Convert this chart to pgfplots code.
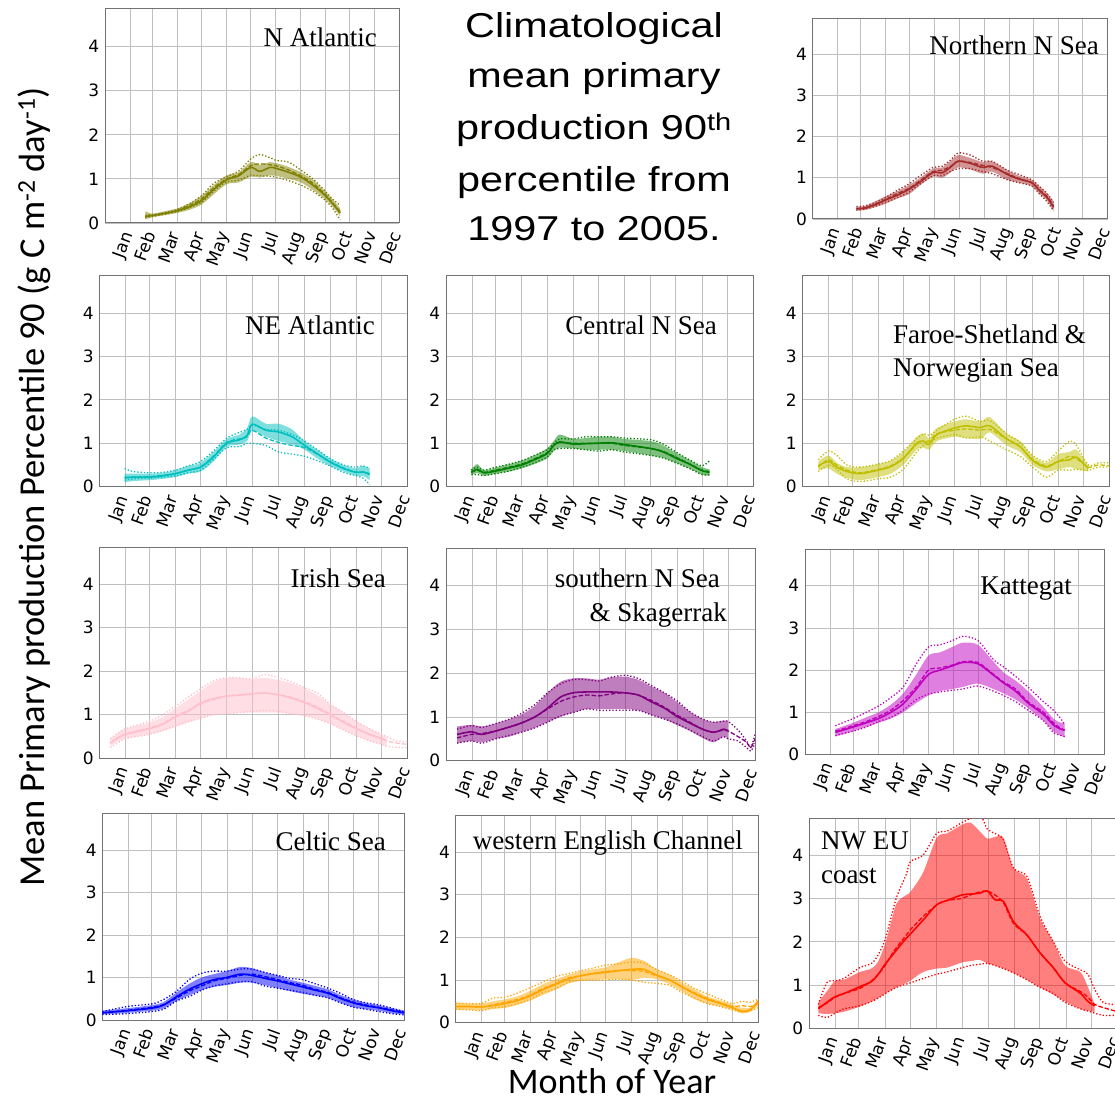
\documentclass[border=0pt]{standalone}
\usepackage{fontspec}
\usepackage{pgfplots}
\usepackage{pgfplotstable}
\pgfplotsset{compat=1.18}
\usepgfplotslibrary{fillbetween}
\setmainfont{Liberation Serif}
\newfontfamily\dejavu{DejaVu Sans}
\newfontfamily\carlito{Carlito}
\newfontfamily\arialw[FakeStretch=1.2]{Liberation Sans}

\definecolor{cOlive}{RGB}{128,128,0}
\definecolor{cBrown}{RGB}{165,42,42}
\definecolor{cCyan}{RGB}{0,191,191}
\definecolor{cGreen}{RGB}{0,128,0}
\definecolor{cYel}{RGB}{191,191,0}
\definecolor{cPink}{RGB}{255,192,203}
\definecolor{cPurple}{RGB}{128,0,128}
\definecolor{cMag}{RGB}{191,0,191}
\definecolor{cBlue}{RGB}{0,0,255}
\definecolor{cOrange}{RGB}{255,165,0}
\definecolor{cRed}{RGB}{255,0,0}

\pgfplotsset{
  panel/.style={
    scale only axis,
    xmin=0, xmax=365, ymin=0, ymax=4.85,
    xtick={31,59,90,120,151,181,212,243,273,304,334,365},
    xticklabels={Jan,Feb,Mar,Apr,May,Jun,Jul,Aug,Sep,Oct,Nov,Dec},
    ytick={0,1,2,3,4},
    grid=major,
    grid style={black!25, line width=0.8pt},
    axis line style={black!55, line width=1pt},
    tick pos=left, major tick length=0pt,
    /pgf/number format/assume math mode=true,
    yticklabel style={font=\dejavu\fontsize{17}{19}\selectfont, inner sep=0pt, anchor=east, xshift=-5.5pt},
    xticklabel style={font=\dejavu\fontsize{17}{19}\selectfont, inner sep=0pt, anchor=north east, xshift=-9pt, yshift=-7pt, rotate=70},
    anchor=south west,
  },
  band/.style={draw=none, forget plot},
}

\newcommand{\panel}[3]{%
  \addplot[band, smooth, name path=#3hi] table[x=d,y=hi]{#1};
  \addplot[band, smooth, name path=#3lo] table[x=d,y=lo]{#1};
  \addplot[fill=#2, fill opacity=0.5, draw=none] fill between[of=#3hi and #3lo];
  \addplot[#2, line width=1.6pt, smooth] table[x=d,y=m]{#1};
  \addplot[#2, line width=1.3pt, smooth, dash pattern=on 4.5pt off 2pt] table[x=d,y=md]{#1};
  \addplot[#2, line width=1.3pt, smooth, dash pattern=on 1.3pt off 2pt] table[x=d,y=dl]{#1};
  \addplot[#2, line width=1.3pt, smooth, dash pattern=on 1.3pt off 2pt] table[x=d,y=dh]{#1};
}

\begin{document}

\pgfplotstableread{
d   lo   hi   m    md   dl   dh
50  0.08 0.27 0.15 0.15 0.12 0.18
59  0.13 0.21 0.17 0.17 0.15 0.19
75  0.18 0.27 0.22 0.22 0.20 0.24
90  0.23 0.33 0.28 0.29 0.26 0.31
105 0.30 0.45 0.37 0.40 0.35 0.44
120 0.42 0.62 0.51 0.55 0.47 0.62
135 0.65 0.86 0.76 0.80 0.72 0.90
151 0.88 1.08 0.98 1.00 0.93 1.05
166 0.92 1.15 1.07 1.10 0.97 1.18
181 1.05 1.38 1.26 1.30 1.08 1.45
192 1.03 1.32 1.17 1.34 1.07 1.55
205 1.08 1.38 1.26 1.32 1.06 1.48
212 1.07 1.36 1.24 1.30 1.04 1.42
228 1.00 1.27 1.15 1.20 0.96 1.38
243 0.92 1.15 1.04 1.07 0.86 1.20
258 0.75 0.98 0.86 0.90 0.72 1.00
273 0.54 0.72 0.63 0.66 0.52 0.73
282 0.38 0.55 0.45 0.47 0.35 0.55
292 0.15 0.33 0.23 0.26 0.07 0.40
}\tA

\pgfplotstableread{
d   lo   hi   m    md   dl   dh
54  0.20 0.30 0.25 0.25 0.22 0.30
65  0.22 0.32 0.27 0.27 0.24 0.32
80  0.30 0.45 0.37 0.38 0.33 0.42
90  0.37 0.55 0.46 0.47 0.40 0.52
105 0.50 0.68 0.58 0.62 0.52 0.70
119 0.60 0.82 0.72 0.74 0.65 0.85
133 0.82 1.00 0.90 0.93 0.85 1.05
149 1.03 1.22 1.13 1.15 1.05 1.25
160 1.00 1.25 1.12 1.18 1.05 1.28
170 1.12 1.40 1.25 1.27 1.15 1.42
180 1.25 1.55 1.40 1.40 1.22 1.60
195 1.20 1.48 1.35 1.37 1.22 1.55
210 1.10 1.38 1.25 1.30 1.15 1.40
222 1.15 1.40 1.28 1.25 1.10 1.40
241 0.95 1.18 1.08 1.10 0.95 1.18
255 0.88 1.05 0.97 0.98 0.88 1.08
271 0.80 0.95 0.88 0.88 0.80 0.95
281 0.60 0.78 0.68 0.70 0.60 0.78
290 0.45 0.62 0.52 0.55 0.42 0.62
298 0.18 0.42 0.28 0.32 0.20 0.40
}\tC

\pgfplotstableread{
d   lo   hi   m    md   dl   dh
30  0.10 0.30 0.20 0.22 0.15 0.42
40  0.13 0.30 0.22 0.22 0.18 0.35
59  0.15 0.30 0.22 0.23 0.20 0.32
75  0.18 0.32 0.25 0.26 0.22 0.33
90  0.22 0.38 0.30 0.30 0.25 0.38
105 0.30 0.48 0.38 0.38 0.32 0.48
120 0.35 0.55 0.45 0.46 0.38 0.58
135 0.58 0.80 0.68 0.70 0.62 0.82
151 0.92 1.10 1.00 1.02 0.90 1.12
166 0.97 1.20 1.08 1.10 0.92 1.25
175 1.05 1.35 1.18 1.15 1.00 1.32
181 1.30 1.62 1.44 1.30 1.00 1.42
197 1.15 1.45 1.30 1.12 0.95 1.32
212 1.05 1.45 1.26 1.02 0.80 1.30
228 0.98 1.32 1.15 0.95 0.75 1.20
243 0.85 1.05 0.95 0.90 0.70 1.05
258 0.65 0.85 0.76 0.75 0.60 0.85
273 0.48 0.65 0.57 0.58 0.48 0.65
289 0.35 0.50 0.42 0.43 0.33 0.50
304 0.25 0.42 0.33 0.33 0.25 0.45
312 0.25 0.48 0.34 0.34 0.20 0.48
320 0.15 0.42 0.28 0.30 0.05 0.42
}\tD

\pgfplotstableread{
d   lo   hi   m    md   dl   dh
30  0.25 0.40 0.33 0.33 0.28 0.38
37  0.32 0.52 0.40 0.38 0.28 0.45
45  0.25 0.38 0.32 0.33 0.26 0.38
59  0.30 0.44 0.36 0.38 0.30 0.45
75  0.35 0.52 0.43 0.45 0.36 0.52
90  0.42 0.60 0.50 0.52 0.45 0.60
105 0.52 0.72 0.62 0.64 0.55 0.72
120 0.65 0.88 0.76 0.78 0.68 0.85
128 0.82 1.05 0.95 0.95 0.85 1.00
135 0.90 1.20 1.03 1.02 0.88 1.10
151 0.88 1.10 0.98 1.00 0.88 1.10
166 0.85 1.12 0.99 1.00 0.85 1.15
181 0.85 1.15 1.00 1.00 0.82 1.15
197 0.85 1.15 1.01 1.00 0.85 1.15
212 0.82 1.10 0.97 0.95 0.80 1.12
243 0.72 1.05 0.88 0.88 0.72 1.08
258 0.66 0.95 0.80 0.81 0.66 0.98
273 0.55 0.78 0.66 0.68 0.55 0.80
289 0.42 0.62 0.52 0.53 0.42 0.62
304 0.28 0.45 0.37 0.38 0.28 0.48
313 0.25 0.40 0.33 0.35 0.28 0.60
}\tE

\pgfplotstableread{
d   lo   hi   m    md   dl   dh
19  0.38 0.58 0.48 0.45 0.35 0.62
31  0.42 0.72 0.58 0.62 0.50 0.82
41  0.30 0.55 0.45 0.50 0.40 0.72
53  0.20 0.45 0.35 0.38 0.18 0.50
69  0.15 0.45 0.30 0.32 0.12 0.45
90  0.22 0.52 0.38 0.40 0.18 0.52
105 0.30 0.60 0.46 0.48 0.22 0.60
120 0.50 0.80 0.65 0.66 0.40 0.82
136 0.85 1.15 1.00 0.98 0.80 1.10
144 0.90 1.22 1.05 1.05 0.95 1.22
151 0.85 1.12 0.98 1.05 1.00 1.18
160 1.05 1.35 1.20 1.22 1.12 1.30
181 1.15 1.50 1.35 1.30 1.20 1.55
195 1.12 1.55 1.40 1.33 1.12 1.62
212 1.10 1.50 1.36 1.30 1.15 1.50
223 1.25 1.60 1.40 1.32 1.05 1.52
243 0.95 1.22 1.10 1.10 0.85 1.22
259 0.80 1.05 0.92 0.92 0.70 1.02
274 0.50 0.70 0.60 0.62 0.45 0.72
290 0.35 0.55 0.45 0.48 0.22 0.58
304 0.40 0.75 0.58 0.58 0.38 0.82
318 0.45 0.80 0.62 0.70 0.38 1.05
326 0.40 0.85 0.68 0.65 0.40 0.95
340 0.35 0.48 0.42 0.45 0.38 0.50
352 nan  nan  nan  0.50 0.45 0.55
365 nan  nan  nan  0.48 0.45 0.55
}\tF

\pgfplotstableread{
d   lo   hi   m    md   dl   dh
13  0.28 0.45 0.35 0.35 0.25 0.45
22  0.38 0.58 0.47 0.47 0.35 0.58
31  0.45 0.68 0.55 0.55 0.45 0.68
59  0.55 0.82 0.68 0.70 0.55 0.85
75  0.62 0.95 0.78 0.80 0.65 1.00
90  0.72 1.15 0.95 0.97 0.75 1.20
105 0.82 1.35 1.08 1.10 0.85 1.40
120 0.92 1.55 1.27 1.25 0.92 1.60
135 1.00 1.75 1.37 1.35 1.00 1.78
151 1.02 1.85 1.43 1.43 1.02 1.85
166 1.05 1.85 1.45 1.46 1.05 1.85
181 1.05 1.82 1.48 1.48 1.08 1.83
196 1.05 1.85 1.50 1.50 1.10 1.92
212 1.05 1.80 1.46 1.46 1.08 1.85
228 1.02 1.72 1.38 1.40 1.02 1.75
243 0.98 1.60 1.28 1.30 0.98 1.62
258 0.90 1.45 1.15 1.18 0.90 1.50
273 0.80 1.25 1.00 1.02 0.80 1.25
289 0.65 1.05 0.83 0.85 0.65 1.05
304 0.52 0.85 0.68 0.70 0.52 0.85
320 0.40 0.68 0.55 0.55 0.40 0.68
334 0.32 0.55 0.45 0.45 0.32 0.55
340 0.28 0.48 0.40 0.40 0.28 0.50
352 nan  nan  nan  0.35 0.25 0.40
365 nan  nan  nan  0.32 0.25 0.38
}\tG

\pgfplotstableread{
d   lo   hi   m    md   dl   dh
13  0.40 0.78 0.60 0.52 0.40 0.72
30  0.45 0.82 0.66 0.60 0.45 0.80
42  0.42 0.78 0.60 0.62 0.40 0.76
59  0.50 0.85 0.68 0.68 0.50 0.85
75  0.55 0.95 0.77 0.77 0.58 0.95
89  0.65 1.05 0.86 0.86 0.65 1.08
105 0.75 1.25 1.00 1.00 0.75 1.28
120 0.88 1.55 1.20 1.18 0.88 1.55
135 1.00 1.80 1.45 1.35 1.02 1.75
150 1.10 1.88 1.55 1.45 1.10 1.85
166 1.18 1.88 1.57 1.50 1.18 1.85
181 1.18 1.85 1.57 1.48 1.15 1.82
194 1.18 1.90 1.57 1.52 1.15 1.90
211 1.18 1.92 1.55 1.55 1.15 1.95
227 1.15 1.85 1.50 1.50 1.15 1.88
242 1.05 1.70 1.35 1.38 1.05 1.72
258 0.95 1.55 1.20 1.22 0.95 1.55
272 0.82 1.35 1.02 1.05 0.85 1.38
288 0.68 1.12 0.86 0.88 0.70 1.12
303 0.52 0.95 0.72 0.72 0.55 0.95
316 0.42 0.88 0.65 0.65 0.45 0.88
328 0.55 0.92 0.72 0.70 0.55 0.90
333 0.50 0.90 0.68 0.68 0.50 0.90
345 nan  nan  nan  0.55 0.45 0.70
355 nan  nan  nan  0.42 0.30 0.45
360 nan  nan  nan  0.30 0.22 0.30
365 nan  nan  nan  0.50 0.40 0.60
}\tH

\pgfplotstableread{
d   lo   hi   m    md   dl   dh
37  0.42 0.60 0.52 0.55 0.45 0.68
59  0.55 0.75 0.65 0.68 0.55 0.85
75  0.65 0.88 0.75 0.78 0.65 1.00
90  0.75 1.00 0.85 0.90 0.78 1.15
105 0.85 1.18 1.00 1.05 0.88 1.35
120 1.00 1.45 1.20 1.28 1.05 1.60
136 1.22 1.90 1.55 1.60 1.30 2.15
151 1.40 2.35 1.90 2.00 1.43 2.55
165 1.50 2.42 2.00 2.05 1.48 2.60
180 1.55 2.55 2.10 2.12 1.52 2.70
193 1.60 2.65 2.18 2.20 1.55 2.80
211 1.68 2.60 2.15 2.18 1.62 2.70
230 1.55 2.20 1.88 1.90 1.50 2.25
242 1.45 1.95 1.70 1.72 1.40 2.08
257 1.30 1.75 1.50 1.55 1.25 1.85
272 1.10 1.50 1.22 1.25 1.05 1.60
291 0.80 1.12 0.95 1.00 0.80 1.25
303 0.55 0.85 0.70 0.75 0.52 1.05
312 0.45 0.75 0.60 0.62 0.45 0.85
317 0.40 0.75 0.57 0.58 0.42 0.70
}\tI

\pgfplotstableread{
d   lo   hi   m    md   dl   dh
0   0.13 0.22 0.17 0.17 0.13 0.20
31  0.17 0.28 0.22 0.23 0.15 0.32
60  0.22 0.35 0.28 0.30 0.20 0.38
74  0.27 0.42 0.35 0.36 0.25 0.48
90  0.45 0.65 0.55 0.52 0.45 0.68
105 0.58 0.85 0.72 0.68 0.55 0.95
120 0.70 1.00 0.85 0.80 0.70 1.10
135 0.78 1.08 0.95 0.92 0.80 1.15
150 0.82 1.15 1.00 0.98 0.85 1.15
167 0.88 1.25 1.08 1.05 0.90 1.20
181 0.88 1.22 1.05 1.08 0.90 1.20
197 0.82 1.12 0.98 1.02 0.80 1.12
212 0.75 1.05 0.92 0.95 0.75 1.05
227 0.68 0.95 0.85 0.88 0.70 0.98
242 0.62 0.88 0.78 0.82 0.65 0.95
258 0.57 0.80 0.70 0.72 0.58 0.85
273 0.52 0.72 0.63 0.65 0.52 0.75
289 0.40 0.58 0.50 0.52 0.40 0.62
304 0.30 0.48 0.40 0.42 0.30 0.48
320 0.25 0.40 0.33 0.35 0.25 0.40
334 0.22 0.35 0.29 0.30 0.20 0.36
350 0.16 0.28 0.22 0.24 0.15 0.28
365 0.13 0.22 0.17 0.18 0.12 0.20
}\tJ

\pgfplotstableread{
d   lo   hi   m    md   dl   dh
0   0.30 0.48 0.38 0.38 0.32 0.45
15  0.30 0.45 0.38 0.38 0.30 0.45
31  0.30 0.45 0.37 0.37 0.28 0.45
45  0.32 0.50 0.40 0.42 0.35 0.58
60  0.35 0.55 0.45 0.48 0.38 0.60
75  0.42 0.62 0.52 0.55 0.45 0.70
90  0.52 0.75 0.63 0.65 0.55 0.82
105 0.65 0.90 0.77 0.80 0.70 0.95
121 0.78 1.02 0.90 0.92 0.80 1.08
136 0.92 1.12 1.02 1.05 0.95 1.15
151 0.98 1.20 1.10 1.10 1.00 1.22
166 1.00 1.25 1.15 1.15 1.00 1.28
181 1.02 1.30 1.18 1.20 1.00 1.35
197 1.02 1.42 1.22 1.22 1.02 1.38
212 1.00 1.52 1.25 1.22 1.00 1.42
227 1.05 1.45 1.25 1.20 0.95 1.40
242 1.02 1.25 1.12 1.10 0.92 1.25
258 0.90 1.12 1.00 1.00 0.88 1.12
272 0.75 0.95 0.85 0.85 0.72 0.98
288 0.55 0.78 0.68 0.70 0.58 0.80
303 0.45 0.62 0.55 0.57 0.45 0.68
319 0.38 0.52 0.45 0.47 0.38 0.55
334 0.30 0.42 0.35 0.38 0.30 0.45
345 0.22 0.35 0.27 0.40 0.25 0.50
355 0.25 0.35 0.30 0.38 0.28 0.48
365 0.40 0.55 0.50 0.45 0.35 0.55
}\tK

\pgfplotstableread{
d   lo   hi   m    md   dl   dh
11  0.35 0.60 0.45 0.48 0.30 0.55
21  0.33 0.85 0.60 0.58 0.25 1.05
31  0.35 1.10 0.73 0.72 0.35 1.10
41  0.38 1.12 0.80 0.80 0.45 1.15
60  0.50 1.30 0.96 0.92 0.52 1.40
74  0.62 1.38 1.08 1.10 0.62 1.50
82  0.70 1.55 1.25 1.25 0.70 1.70
90  0.80 1.95 1.48 1.45 0.80 2.05
97  0.88 2.45 1.65 1.68 0.88 2.55
104 0.95 2.90 1.82 1.88 0.95 3.05
115 1.05 3.08 2.08 2.15 1.02 3.55
120 1.10 3.15 2.18 2.28 1.05 3.85
135 1.30 3.60 2.50 2.58 1.15 4.00
151 1.38 4.40 2.85 2.85 1.25 4.50
163 1.40 4.50 2.95 2.95 1.30 4.55
181 1.52 4.70 3.08 3.00 1.40 4.75
191 1.55 4.75 3.10 3.08 1.45 4.85
202 1.58 4.55 3.12 3.15 1.48 4.95
211 1.50 4.38 3.17 3.17 1.50 4.60
220 1.45 4.42 2.97 3.08 1.45 4.50
230 1.38 4.40 2.93 2.90 1.38 4.35
242 1.28 3.70 2.46 2.42 1.28 3.70
258 1.12 3.45 2.15 2.15 1.12 3.50
273 0.95 2.55 1.75 1.75 0.95 2.60
289 0.78 2.00 1.40 1.40 0.80 2.00
303 0.62 1.45 1.05 1.05 0.60 1.55
321 0.45 1.30 0.81 0.85 0.45 1.35
330 0.40 0.95 0.62 0.72 0.40 1.25
338 0.38 0.55 0.52 0.55 0.35 0.90
348 nan  nan  nan  0.48 0.30 0.60
362 nan  nan  nan  0.40 0.30 0.55
}\tL

\begin{tikzpicture}

% Row 1
\begin{axis}[panel, at={(105pt,877pt)}, width=294pt, height=214pt]
\panel{\tA}{cOlive}{a}
\end{axis}
\begin{axis}[panel, at={(812.7pt,881pt)}, width=295pt, height=200pt]
\panel{\tC}{cBrown}{c}
\end{axis}

% Row 2
\begin{axis}[panel, at={(99.3pt,613.3pt)}, width=308.4pt, height=210.7pt]
\panel{\tD}{cCyan}{d}
\end{axis}
\begin{axis}[panel, at={(446pt,613.3pt)}, width=307.3pt, height=210.7pt]
\panel{\tE}{cGreen}{e}
\end{axis}
\begin{axis}[panel, at={(802.3pt,613.3pt)}, width=307pt, height=210.7pt]
\panel{\tF}{cYel}{f}
\end{axis}

% Row 3
\begin{axis}[panel, at={(99.3pt,341.7pt)}, width=308.4pt, height=211pt]
\panel{\tG}{cPink}{g}
\end{axis}
\begin{axis}[panel, at={(446pt,339.3pt)}, width=309pt, height=212.4pt]
\panel{\tH}{cPurple}{h}
\end{axis}
\begin{axis}[panel, at={(805pt,345.7pt)}, width=299pt, height=204.3pt]
\panel{\tI}{cMag}{i}
\end{axis}

% Row 4
\begin{axis}[panel, at={(102.3pt,80pt)}, width=301.7pt, height=206pt]
\panel{\tJ}{cBlue}{j}
\end{axis}
\begin{axis}[panel, at={(455.7pt,77.3pt)}, width=302.6pt, height=207pt]
\panel{\tK}{cOrange}{k}
\end{axis}
\begin{axis}[panel, at={(809pt,71.7pt)}, width=308.5pt, height=210pt]
\panel{\tL}{cRed}{l}
\end{axis}

% panel titles
\begin{scope}[every node/.style={font=\fontsize{27}{30}\selectfont, inner sep=0pt}]
\node[anchor=base east] at (377pt,1053pt) {N Atlantic};
\node[anchor=base east] at (1099pt,1045pt) {Northern N Sea};
\node[anchor=base east] at (375pt,765pt) {NE Atlantic};
\node[anchor=base east] at (717pt,765pt) {Central N Sea};
\node[anchor=base west] at (893pt,756pt) {Faroe-Shetland \&};
\node[anchor=base west] at (893pt,723pt) {Norwegian Sea};
\node[anchor=base east] at (386pt,512pt) {Irish Sea};
\node[anchor=base east] at (720pt,512pt) {southern N Sea};
\node[anchor=base east] at (727pt,478pt) {\& Skagerrak};
\node[anchor=base east] at (1072pt,505pt) {Kattegat};
\node[anchor=base east] at (386pt,249pt) {Celtic Sea};
\node[anchor=base east] at (743pt,250pt) {western English Channel};
\node[anchor=base west] at (821pt,250pt) {NW EU};
\node[anchor=base west] at (821pt,217pt) {coast};
\end{scope}

% main title
\begin{scope}[every node/.style={font=\arialw\fontsize{34.5}{40}\selectfont, inner sep=0pt, anchor=base}]
\node at (594pt,1062.7pt) {Climatological};
\node at (594pt,1012pt) {mean primary};
\node at (594pt,960pt) {production 90\textsuperscript{th}};
\node at (594pt,908pt) {percentile from};
\node at (594pt,859pt) {1997 to 2005.};
\end{scope}

% axis labels
\node[font=\carlito\fontsize{36.5}{40}\selectfont, inner sep=0pt, anchor=base, rotate=90] at (44pt,613pt)
  {Mean Primary production Percentile 90 (g C m\textsuperscript{-2} day\textsuperscript{-1})};
\node[font=\carlito\fontsize{36}{40}\selectfont, inner sep=0pt, anchor=base] at (612pt,7pt) {Month of Year};

\pgfresetboundingbox
\path[use as bounding box] (0pt,0pt) rectangle (1115pt,1100pt);
\end{tikzpicture}
\end{document}
